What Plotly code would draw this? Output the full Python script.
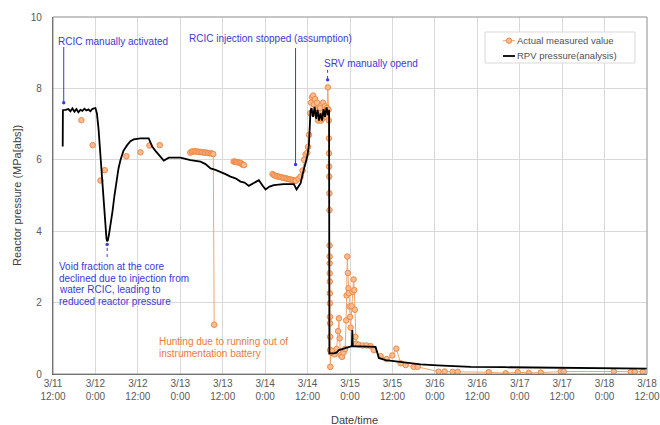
import plotly.graph_objects as go

# ---- RPV pressure from the analysis (MPa abs) ----
rpv_time = [
    "2011-03-11 14:45", "2011-03-11 14:48", "2011-03-11 15:31", "2011-03-11 16:22",
    "2011-03-11 16:55", "2011-03-11 17:29", "2011-03-11 18:04", "2011-03-11 18:37",
    "2011-03-11 19:11", "2011-03-11 19:45", "2011-03-11 20:19", "2011-03-11 20:53",
    "2011-03-11 21:27", "2011-03-11 22:01", "2011-03-11 22:35", "2011-03-11 23:09",
    "2011-03-12 00:00", "2011-03-12 00:25", "2011-03-12 00:51", "2011-03-12 01:25",
    "2011-03-12 01:59", "2011-03-12 02:24", "2011-03-12 02:50", "2011-03-12 03:07",
    "2011-03-12 03:19", "2011-03-12 03:32", "2011-03-12 03:49", "2011-03-12 04:15",
    "2011-03-12 04:49", "2011-03-12 05:23", "2011-03-12 05:56", "2011-03-12 06:31",
    "2011-03-12 07:04", "2011-03-12 07:55", "2011-03-12 08:58", "2011-03-12 09:54",
    "2011-03-12 10:50", "2011-03-12 12:44", "2011-03-12 15:05", "2011-03-12 16:03",
    "2011-03-12 16:59", "2011-03-12 17:55", "2011-03-12 19:20", "2011-03-12 20:45",
    "2011-03-13 00:04", "2011-03-13 02:53", "2011-03-13 05:43", "2011-03-13 07:08",
    "2011-03-13 08:33", "2011-03-13 09:58", "2011-03-13 11:23", "2011-03-13 12:47",
    "2011-03-13 14:12", "2011-03-13 15:37", "2011-03-13 17:02", "2011-03-13 18:10",
    "2011-03-13 19:23", "2011-03-13 20:43", "2011-03-13 22:13", "2011-03-13 23:16",
    "2011-03-14 00:07", "2011-03-14 01:14", "2011-03-14 02:28", "2011-03-14 05:12",
    "2011-03-14 08:07", "2011-03-14 08:53", "2011-03-14 10:01", "2011-03-14 10:52",
    "2011-03-14 11:55", "2011-03-14 12:22", "2011-03-14 12:51", "2011-03-14 13:08",
    "2011-03-14 13:33", "2011-03-14 13:59", "2011-03-14 14:24", "2011-03-14 14:50",
    "2011-03-14 15:15", "2011-03-14 15:41", "2011-03-14 16:06", "2011-03-14 16:31",
    "2011-03-14 16:57", "2011-03-14 17:22", "2011-03-14 17:48", "2011-03-14 18:05",
    "2011-03-14 18:10", "2011-03-14 19:26", "2011-03-14 20:12", "2011-03-14 20:51",
    "2011-03-14 22:16", "2011-03-14 23:36", "2011-03-15 00:32", "2011-03-15 00:39",
    "2011-03-15 00:47", "2011-03-15 07:14", "2011-03-15 07:53", "2011-03-15 08:11",
    "2011-03-15 10:04", "2011-03-15 11:29", "2011-03-15 15:15", "2011-03-15 19:59",
    "2011-03-16 00:42", "2011-03-16 10:08", "2011-03-16 19:33", "2011-03-17 08:46",
    "2011-03-17 22:55", "2011-03-18 12:00",
]
rpv_mpa = [
    6.37, 7.39, 7.40, 7.42, 7.36, 7.44, 7.35, 7.42,
    7.33, 7.40, 7.37, 7.43, 7.38, 7.41, 7.36, 7.43,
    7.45, 7.30, 6.90, 6.10, 5.30, 4.70, 4.10, 3.80,
    3.72, 3.75, 3.90, 4.15, 4.55, 5.00, 5.40, 5.75,
    5.99, 6.25, 6.41, 6.52, 6.57, 6.60, 6.60, 6.37,
    6.25, 6.13, 5.98, 6.06, 6.06, 5.99, 5.95, 5.88,
    5.76, 5.72, 5.67, 5.60, 5.53, 5.48, 5.39, 5.36,
    5.27, 5.35, 5.43, 5.28, 5.17, 5.25, 5.29, 5.32,
    5.32, 5.17, 5.34, 5.70, 6.09, 6.40, 7.39, 7.45,
    7.20, 7.48, 7.15, 7.40, 7.10, 7.30, 7.10, 7.42,
    7.20, 7.47, 7.25, 7.40, 0.58, 0.58, 0.60, 0.67,
    0.72, 0.76, 0.78, 1.23, 0.78, 0.76, 0.53, 0.45,
    0.39, 0.37, 0.32, 0.27, 0.24, 0.20, 0.19, 0.17,
    0.155, 0.15,
]

# ---- Actual measured reactor pressure (None = no reading / gap) ----
measured_time = [
    "2011-03-11 20:02", "2011-03-11 20:02", "2011-03-11 23:14", "2011-03-11 23:14",
    "2011-03-12 01:25", "2011-03-12 01:25", "2011-03-12 02:38", "2011-03-12 02:38",
    "2011-03-12 08:46", "2011-03-12 08:46", "2011-03-12 12:44", "2011-03-12 12:44",
    "2011-03-12 15:17", "2011-03-12 15:17", "2011-03-12 18:12", "2011-03-12 18:12",
    # 3/13 early morning readings, then battery hunting
    "2011-03-13 02:50", "2011-03-13 03:15", "2011-03-13 03:40", "2011-03-13 04:05",
    "2011-03-13 04:30", "2011-03-13 04:55", "2011-03-13 05:20", "2011-03-13 05:45",
    "2011-03-13 06:10", "2011-03-13 06:35", "2011-03-13 07:00", "2011-03-13 07:25",
    "2011-03-13 07:50", "2011-03-13 08:15", "2011-03-13 08:40", "2011-03-13 09:05",
    "2011-03-13 09:20", "2011-03-13 09:35", "2011-03-13 09:35",
    # 3/13 afternoon
    "2011-03-13 15:05", "2011-03-13 15:25", "2011-03-13 15:45", "2011-03-13 16:05",
    "2011-03-13 16:25", "2011-03-13 16:45", "2011-03-13 17:05", "2011-03-13 17:25",
    "2011-03-13 17:45", "2011-03-13 18:00", "2011-03-13 18:00",
    # 3/14 onwards
    "2011-03-14 02:05", "2011-03-14 02:30", "2011-03-14 02:55", "2011-03-14 03:20",
    "2011-03-14 03:45", "2011-03-14 04:10", "2011-03-14 04:35", "2011-03-14 05:00",
    "2011-03-14 05:25", "2011-03-14 05:50", "2011-03-14 06:15", "2011-03-14 06:40",
    "2011-03-14 07:05", "2011-03-14 07:30", "2011-03-14 07:55", "2011-03-14 08:20",
    "2011-03-14 08:40", "2011-03-14 09:27", "2011-03-14 10:01", "2011-03-14 10:35",
    "2011-03-14 11:01", "2011-03-14 11:26", "2011-03-14 11:55", "2011-03-14 12:08",
    "2011-03-14 12:25", "2011-03-14 12:43", "2011-03-14 12:59", "2011-03-14 13:16",
    "2011-03-14 13:34", "2011-03-14 13:50", "2011-03-14 14:07", "2011-03-14 14:24",
    "2011-03-14 14:41", "2011-03-14 14:58", "2011-03-14 15:15", "2011-03-14 15:32",
    "2011-03-14 15:49", "2011-03-14 16:06", "2011-03-14 16:23", "2011-03-14 16:40",
    "2011-03-14 16:57", "2011-03-14 17:14", "2011-03-14 17:31", "2011-03-14 17:44",
    "2011-03-14 17:56", "2011-03-14 18:00", "2011-03-14 18:02", "2011-03-14 18:04",
    "2011-03-14 18:06", "2011-03-14 18:08", "2011-03-14 18:10", "2011-03-14 18:12",
    "2011-03-14 18:13", "2011-03-14 18:14", "2011-03-14 18:15", "2011-03-14 18:16",
    "2011-03-14 18:17", "2011-03-14 18:18", "2011-03-14 18:19", "2011-03-14 18:20",
    "2011-03-14 18:21", "2011-03-14 18:22", "2011-03-14 18:23", "2011-03-14 18:25",
    "2011-03-14 18:39", "2011-03-14 19:05", "2011-03-14 19:38", "2011-03-14 20:13",
    "2011-03-14 20:38", "2011-03-14 20:52", "2011-03-14 21:04", "2011-03-14 21:20",
    "2011-03-14 21:46", "2011-03-14 22:11", "2011-03-14 22:37", "2011-03-14 22:54",
    "2011-03-14 23:02", "2011-03-14 23:14", "2011-03-14 23:24", "2011-03-14 23:33",
    "2011-03-14 23:41", "2011-03-14 23:50", "2011-03-15 00:02", "2011-03-15 00:10",
    "2011-03-15 00:27", "2011-03-15 00:44", "2011-03-15 01:01", "2011-03-15 01:13",
    "2011-03-15 01:22", "2011-03-15 01:32", "2011-03-15 01:44", "2011-03-15 02:26",
    "2011-03-15 03:34", "2011-03-15 04:42", "2011-03-15 05:50", "2011-03-15 06:46",
    "2011-03-15 08:40", "2011-03-15 10:22", "2011-03-15 11:58", "2011-03-15 13:06",
    "2011-03-15 14:19", "2011-03-15 15:44", "2011-03-15 18:00", "2011-03-15 19:08",
    "2011-03-16 01:04", "2011-03-16 02:46", "2011-03-16 05:02", "2011-03-16 06:27",
    "2011-03-16 15:14", "2011-03-16 20:02", "2011-03-16 23:26", "2011-03-17 02:33",
    "2011-03-17 05:57", "2011-03-17 11:37", "2011-03-17 12:27", "2011-03-18 02:36",
    "2011-03-18 07:25", "2011-03-18 08:32", "2011-03-18 10:48",
]
measured_mpa = [
    7.11, None, 6.41, None,
    5.42, None, 5.71, None,
    6.10, None, 6.21, None,
    6.40, None, 6.41, None,
    6.20, 6.23, 6.23, 6.24,
    6.23, 6.23, 6.22, 6.22,
    6.21, 6.21, 6.20, 6.20,
    6.19, 6.19, 6.18, 6.17,
    6.16, 1.38, None,
    5.95, 5.95, 5.94, 5.93,
    5.93, 5.92, 5.91, 5.88,
    5.86, 5.85, None,
    5.60, 5.57, 5.55, 5.54,
    5.53, 5.52, 5.51, 5.50,
    5.49, 5.48, 5.47, 5.46,
    5.45, 5.44, 5.43, 5.42,
    5.41, 5.47, 5.53, 5.70,
    6.00, 6.15, 6.20, 6.36,
    6.70, 7.30, 7.60, 7.75,
    7.80, 7.55, 7.70, 7.30,
    7.60, 7.10, 7.20, 7.45,
    7.10, 7.15, 7.60, 7.30,
    7.50, 7.20, 7.45, 8.03,
    7.40, 7.10, 6.60, 6.18,
    5.81, 5.53, 5.06, 4.59,
    3.60, 3.29, 3.10, 2.82,
    2.59, 2.26, 1.98, 1.60,
    1.42, 1.04, 0.67, 0.20,
    0.60, 0.65, 0.55, 0.70,
    1.20, 1.56, 1.00, 0.53,
    0.48, 0.60, 0.70, 1.50,
    2.20, 3.29, 2.83, 2.40,
    2.26, 1.89, 1.60, 1.30,
    1.90, 2.30, 2.65, 2.35,
    1.80, 1.04, 0.85, 0.82,
    0.80, 0.80, 0.78, 0.67,
    0.50, 0.42, 0.52, 0.71,
    0.30, 0.25, 0.20, 0.20,
    0.065, 0.07, 0.06, 0.06,
    0.05, 0.02, 0.05, 0.03,
    0.04, 0.07, 0.07, 0.07,
    0.06, 0.06, 0.06,
]

# ---- Axis ticks ----
tick_time = [
    "2011-03-11 12:00", "2011-03-12 00:00", "2011-03-12 12:00", "2011-03-13 00:00",
    "2011-03-13 12:00", "2011-03-14 00:00", "2011-03-14 12:00", "2011-03-15 00:00",
    "2011-03-15 12:00", "2011-03-16 00:00", "2011-03-16 12:00", "2011-03-17 00:00",
    "2011-03-17 12:00", "2011-03-18 00:00", "2011-03-18 12:00",
]
tick_text = [
    "3/11<br>12:00", "3/12<br>0:00", "3/12<br>12:00", "3/13<br>0:00",
    "3/13<br>12:00", "3/14<br>0:00", "3/14<br>12:00", "3/15<br>0:00",
    "3/15<br>12:00", "3/16<br>0:00", "3/16<br>12:00", "3/17<br>0:00",
    "3/17<br>12:00", "3/18<br>0:00", "3/18<br>12:00",
]
y_ticks = [0, 2, 4, 6, 8, 10]

FONT = "Liberation Sans, Arial, sans-serif"
BLUE = "#3A3AD8"
ORANGE_TXT = "#EE7A38"
GRID = "#D9D9D9"
MK_FILL, MK_EDGE, MK_LINE = "#F8BC92", "#F08A45", "#F5A46C"

fig = go.Figure()

fig.add_trace(go.Scatter(
    x=measured_time, y=measured_mpa, name="Actual measured value",
    mode="lines+markers", connectgaps=False, showlegend=False,
    line=dict(color=MK_LINE, width=1),
    marker=dict(symbol="circle", size=5.5, color=MK_FILL,
                line=dict(color=MK_EDGE, width=1)),
))
fig.add_trace(go.Scatter(
    x=rpv_time, y=rpv_mpa, name="RPV pressure(analysis)", showlegend=False,
    mode="lines", line=dict(color="black", width=1.8),
))

# plot-area geometry in pixels, used to place notes and the key
L, R, T, B = 53, 647, 17, 374


def px(xp):
    return (xp - L) / (R - L)


def py(yp):
    return (B - yp) / (B - T)


shapes = []
# white backing boxes behind the text notes (hide gridlines, sit under data)
for x0, y0, x1, y1 in [(55, 34, 170, 50), (185, 30, 352, 46), (320, 56, 420, 71),
                       (L + 1, 258, 195, 309), (155, 334, 322, 360)]:
    shapes.append(dict(type="rect", xref="paper", yref="paper",
                       x0=px(x0), x1=px(x1), y0=py(y1), y1=py(y0),
                       fillcolor="white", line=dict(width=0), layer="between"))

# leader lines and end dots for the event notes
leaders = [
    ("2011-03-11 15:02", 9.16, 7.60, "solid"),
    ("2011-03-14 08:36", 9.13, 5.87, "solid"),
    ("2011-03-14 17:40", 8.52, 8.24, "dot"),
    ("2011-03-12 03:19", 3.28, 3.63, "dot"),
]
for t, y_from, y_to, dash in leaders:
    shapes.append(dict(type="line", xref="x", yref="y", x0=t, x1=t,
                       y0=y_from, y1=y_to, line=dict(color=BLUE, width=1, dash=dash)))
    shapes.append(dict(type="circle", xref="x", yref="y", xsizemode="pixel",
                       ysizemode="pixel", xanchor=t, yanchor=y_to,
                       x0=-1.7, x1=1.7, y0=-1.7, y1=1.7,
                       fillcolor=BLUE, line=dict(width=0)))

# key box with its two entries
shapes.append(dict(type="rect", xref="paper", yref="paper",
                   x0=px(485), x1=px(635), y0=py(63), y1=py(32),
                   fillcolor="white", line=dict(color="#D9D9D9", width=1), layer="above"))
shapes.append(dict(type="line", xref="paper", yref="paper", x0=px(503), x1=px(515),
                   y0=py(40.7), y1=py(40.7), line=dict(color=MK_LINE, width=1), layer="above"))
shapes.append(dict(type="circle", xref="paper", yref="paper", xsizemode="pixel",
                   ysizemode="pixel", xanchor=px(509), yanchor=py(40.7),
                   x0=-2.7, x1=2.7, y0=-2.7, y1=2.7, fillcolor=MK_FILL,
                   line=dict(color=MK_EDGE, width=1), layer="above"))
shapes.append(dict(type="line", xref="paper", yref="paper", x0=px(503), x1=px(515),
                   y0=py(56), y1=py(56), line=dict(color="black", width=1.8), layer="above"))

# outer frame of the plot area
shapes.append(dict(type="rect", xref="paper", yref="paper", x0=0, x1=1, y0=0, y1=1,
                   line=dict(color="#8C8C8C", width=1), layer="above"))

annotations = []


def note(text, x, y, color, size=10, angle=0, xanchor="left"):
    annotations.append(dict(text=text, xref="paper", yref="paper", x=px(x), y=py(y),
                            xanchor=xanchor, yanchor="middle", showarrow=False,
                            textangle=angle,
                            font=dict(family=FONT, size=size, color=color)))


note("RCIC manually activated", 56, 42, BLUE)
note("RCIC injection stopped (assumption)", 187, 38, BLUE)
note("SRV manually opend", 322, 63.5, BLUE)
for i, line in enumerate(["Void fraction at the core",
                          "declined due to injection from",
                          "water RCIC, leading to",
                          "reduced reactor pressure"]):
    note(line, 57, 266.5 + i * 11.6, BLUE)
note("Hunting due to running out of", 157, 341.5, ORANGE_TXT)
note("instrumentation battery", 157, 353.3, ORANGE_TXT)
note("Actual measured value", 515, 40.7, "#505050", 9.5)
note("RPV pressure(analysis)", 515, 56, "#505050", 9.5)

# axis titles
note("Date/time", 354, 420, "#404040", 11, xanchor="center")
note("Reactor pressure (MPa[abs])", 17, 196, "#404040", 11, angle=-90, xanchor="center")

fig.update_layout(
    width=660, height=425,
    margin=dict(l=L, r=660 - R, t=T, b=425 - B, pad=0),
    paper_bgcolor="white", plot_bgcolor="white",
    font=dict(family=FONT, size=10, color="#595959"),
    shapes=shapes, annotations=annotations,
    showlegend=False,
)
fig.update_xaxes(
    type="date", range=["2011-03-11 12:00", "2011-03-18 12:00"],
    tickmode="array", tickvals=tick_time, ticktext=tick_text,
    showgrid=True, gridcolor=GRID, gridwidth=1,
    showline=True, linecolor="#595959", linewidth=1.3, ticks="",
    tickfont=dict(family=FONT, size=10, color="#595959"),
    zeroline=False, automargin=False,
)
fig.update_yaxes(
    range=[0, 10], tickmode="array", tickvals=y_ticks,
    showgrid=True, gridcolor=GRID, gridwidth=1,
    showline=True, linecolor="#595959", linewidth=1.3, ticks="",
    ticklabelstandoff=8,
    tickfont=dict(family=FONT, size=10, color="#595959"),
    zeroline=False, automargin=False,
)

fig.write_html("out.html")
